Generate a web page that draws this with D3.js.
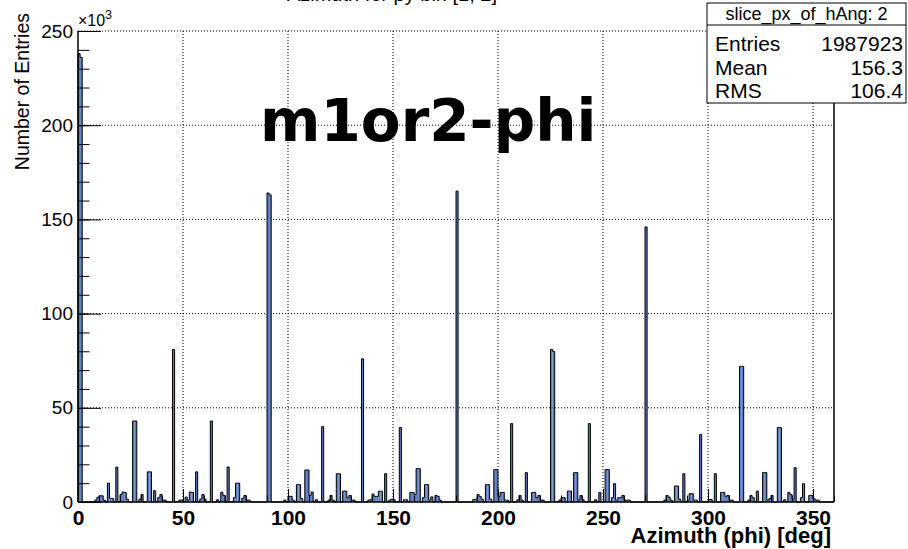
<!DOCTYPE html>
<html><head><meta charset="utf-8">
<script src="https://cdn.jsdelivr.net/npm/d3@7"></script>
<style>html,body{margin:0;padding:0;background:#fff;}svg{display:block;}</style>
</head><body>
<svg id="chart" width="908" height="549"></svg>
<script>
// ---- data (bin lower edge in degrees, 1-degree bins; counts in units of 10^3 entries) ----
const binAngles = [
  0,1,8,9,10,11,12,14,15,16,18,20,21,22,23,26,27,29,30,33,34,36,38,39,40,41,45,
  48,49,51,52,53,54,56,58,59,60,63,66,68,69,71,74,75,76,78,79,80,81,90,91,
  98,100,101,102,104,105,106,108,109,110,111,113,116,119,120,121,123,124,126,127,128,129,130,131,135,
  138,139,140,141,142,143,144,146,148,149,150,153,155,156,158,159,160,161,162,164,165,166,167,168,170,171,172,180,
  188,189,190,191,192,194,195,196,198,199,200,201,202,203,204,206,209,210,211,213,216,217,218,219,220,221,225,226,
  229,230,231,233,234,236,237,238,239,240,243,246,248,251,252,254,255,256,257,258,259,260,261,262,270,
  279,280,281,282,284,285,286,288,290,291,292,293,294,296,300,301,303,306,307,308,309,310,311,315,316,
  319,320,321,323,326,327,328,329,330,333,334,336,338,339,340,341,344,345,348,349,350,351,352
];
const binCountsK = [
  238,236,1.0,2.5,3.3,3.3,1.0,10,2.0,1.8,18.5,4.0,5.3,5.0,1.5,43,43,1.5,4.0,16,16,6.0,2.3,4.0,1.0,1.0,81,
  1.0,1.0,2.6,1.0,5.3,5.0,16,1.6,4.0,1.5,43,1.2,5.2,3.5,18.6,2.3,10,10,2.0,3.5,1.0,1.0,164,163,
  1.0,3.0,3.0,1.0,9.2,9.2,1.8,17,17,3.5,5.3,1.2,40,1.0,3.5,1.0,15,15,5.8,5.8,2.3,3.5,1.0,1.0,76,
  1.0,1.2,4.2,3.0,3.0,5.7,5.7,15,1.0,1.5,1.2,39.5,1.2,1.2,5.1,5.1,4.0,17.7,17.7,2.3,9.2,9.2,1.0,2.7,3.5,3.0,1.0,165,
  1.4,1.4,4.0,3.0,1.5,9.2,9.2,1.5,17.2,17.2,3.0,5.1,5.1,1.0,1.0,41.6,1.2,3.5,1.0,15.6,5.1,5.1,2.3,3.5,1.0,1.0,81,80,
  1.0,2.3,2.3,5.8,5.8,15.6,15.6,1.0,3.5,1.2,41.6,1.2,5.1,17.2,17.2,2.3,9.7,1.0,2.3,2.3,3.5,1.0,1.0,1.0,146,
  1.0,3.5,2.6,1.0,8.5,8.5,1.5,15,1.0,4.4,4.4,1.0,1.0,35.8,1.3,1.3,15,5.1,5.1,3.0,3.5,1.0,1.0,72,72,
  1.0,3.5,2.3,5.8,15.6,15.6,1.0,1.8,3.5,39.5,39.5,1.2,5.1,4.0,1.5,18.2,2.3,9.7,3.5,3.5,1.8,1.0,1.0
];
const xMajorTicks = [0,50,100,150,200,250,300,350];
const yMajorTicks = [0,50,100,150,200,250];
const titleText = "Azimuth for py bin [1, 2]";
const labelText = "m1or2-phi";
const xTitle = "Azimuth (phi) [deg]";
const yTitle = "Number of Entries";
const statsTitle = "slice_px_of_hAng: 2";
const statsNames = ["Entries","Mean","RMS"];
const statsValues = ["1987923","156.3","106.4"];

// ---- layout ----
const L = 78, R = 834, T = 31, B = 502;
const nBins = 360;
const svg = d3.select("#chart");
const x = d3.scaleLinear().domain([0, 360]).range([L, R]);
const y = d3.scaleLinear().domain([0, 250]).range([B, T]);
const fillCol = "#5b7cc0";
const sans = "'Liberation Sans', Arial, Helvetica, sans-serif";

const counts = new Array(nBins).fill(0);
binAngles.forEach((b, i) => { counts[b] = binCountsK[i]; });

// title (mostly above the canvas, only descenders visible)
svg.append("text").attr("x", 497).attr("y", 0.5).attr("text-anchor", "end")
  .style("font-family", sans).style("font-size", "20px").text(titleText);

// grid
const gGrid = svg.append("g").attr("stroke", "#000").attr("stroke-width", 1).attr("stroke-dasharray", "1,2");
xMajorTicks.filter(v => v > 0).forEach(v => {
  gGrid.append("line").attr("x1", x(v)).attr("x2", x(v)).attr("y1", T).attr("y2", B);
});
yMajorTicks.filter(v => v > 0).forEach(v => {
  gGrid.append("line").attr("x1", L).attr("x2", R).attr("y1", y(v)).attr("y2", y(v));
});

// bars fill
svg.append("g").selectAll("rect").data(counts.map((c, i) => ({i, c})).filter(d => d.c > 0))
  .join("rect")
  .attr("x", d => x(d.i)).attr("width", d => x(d.i + 1) - x(d.i))
  .attr("y", d => y(d.c)).attr("height", d => y(0) - y(d.c))
  .attr("fill", fillCol);

// outline step path
const pts = [[0, 0]];
counts.forEach((c, i) => pts.push([i, c]));
pts.push([nBins, counts[nBins - 1]]);
pts.push([nBins, 0]);
svg.append("path")
  .attr("d", d3.line().x(d => x(d[0])).y(d => y(d[1])).curve(d3.curveStepAfter)(pts))
  .attr("fill", "none").attr("stroke", "#000").attr("stroke-width", 1);

// axes ticks
const yMinor = d3.range(0, 251, 10);
const xMinor = d3.range(0, 361, 10);
const axG = svg.append("g");
axG.append("g").attr("transform", `translate(${L},0)`)
  .call(d3.axisRight(y).tickValues(yMinor).tickSize(11.5).tickFormat(""))
  .call(g => g.select(".domain").remove());
axG.append("g").attr("transform", `translate(${L},0)`)
  .call(d3.axisRight(y).tickValues(yMajorTicks).tickSize(23).tickFormat(""))
  .call(g => g.select(".domain").remove());
axG.append("g").attr("transform", `translate(${L},0)`)
  .call(d3.axisLeft(y).tickValues(yMajorTicks).tickSize(0).tickPadding(5).tickFormat(d3.format("d")))
  .call(g => g.select(".domain").remove())
  .call(g => g.selectAll("text").style("font-family", sans).style("font-size", "19px").attr("fill", "#000"));
axG.append("g").attr("transform", `translate(0,${B})`)
  .call(d3.axisTop(x).tickValues(xMinor).tickSize(6.5).tickFormat(""))
  .call(g => g.select(".domain").remove());
axG.append("g").attr("transform", `translate(0,${B})`)
  .call(d3.axisTop(x).tickValues(xMajorTicks).tickSize(13).tickFormat(""))
  .call(g => g.select(".domain").remove());
axG.append("g").attr("transform", `translate(0,${B})`)
  .call(d3.axisBottom(x).tickValues(xMajorTicks).tickSize(0).tickPadding(8).tickFormat(d3.format("d")))
  .call(g => g.select(".domain").remove())
  .call(g => g.selectAll("text").style("font-family", sans).style("font-size", "21px").style("font-weight", "bold").attr("fill", "#000"));
axG.selectAll(".tick line").attr("stroke", "#000");

// frame lines
svg.append("line").attr("x1", L).attr("x2", L).attr("y1", T).attr("y2", B).attr("stroke", "#000").attr("stroke-width", 1.5);
svg.append("line").attr("x1", L).attr("x2", R).attr("y1", B).attr("y2", B).attr("stroke", "#000").attr("stroke-width", 1.5);
svg.append("line").attr("x1", R).attr("x2", R).attr("y1", T).attr("y2", B).attr("stroke", "#000").attr("stroke-width", 1.5);

// exponent label
const ex = svg.append("text").attr("x", L).attr("y", 26).style("font-family", sans).style("font-size", "16px");
ex.append("tspan").text("\u00d710");
ex.append("tspan").attr("dy", -7).style("font-size", "12px").text("3");

// axis titles
svg.append("text").attr("transform", `translate(29,${T - 18}) rotate(-90)`).attr("text-anchor", "end")
  .style("font-family", sans).style("font-size", "19.5px").text(yTitle);
svg.append("text").attr("x", 831).attr("y", 543).attr("text-anchor", "end")
  .style("font-family", sans).style("font-size", "22px").style("font-weight", "bold").text(xTitle);

// big label
svg.append("text").attr("x", 260).attr("y", 141)
  .style("font-family", "'DejaVu Sans', sans-serif").style("font-size", "58px").style("font-weight", "bold").text(labelText);

// stats box
const sb = {x0: 707, x1: 906, y0: 3, yh: 25, y1: 103};
svg.append("rect").attr("x", sb.x0).attr("y", sb.y0).attr("width", sb.x1 - sb.x0).attr("height", sb.y1 - sb.y0)
  .attr("fill", "#fff").attr("stroke", "#000").attr("stroke-width", 1);
svg.append("line").attr("x1", sb.x0).attr("x2", sb.x1).attr("y1", sb.yh).attr("y2", sb.yh).attr("stroke", "#000");
svg.append("text").attr("x", (sb.x0 + sb.x1) / 2).attr("y", 20).attr("text-anchor", "middle")
  .style("font-family", sans).style("font-size", "18px").text(statsTitle);
statsNames.forEach((n, i) => {
  const yy = 51 + i * 23.5;
  svg.append("text").attr("x", sb.x0 + 8).attr("y", yy).style("font-family", sans).style("font-size", "21px").text(n);
  svg.append("text").attr("x", sb.x1 - 3).attr("y", yy).attr("text-anchor", "end").style("font-family", sans).style("font-size", "21px").text(statsValues[i]);
});
</script>
</body></html>
